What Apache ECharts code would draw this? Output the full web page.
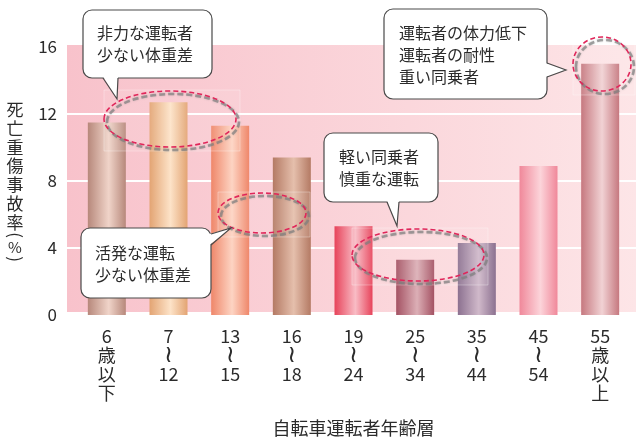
<!DOCTYPE html>
<html>
<head>
<meta charset="utf-8">
<script src="https://cdn.jsdelivr.net/npm/echarts@6/dist/echarts.min.js"></script>
<style>
  html, body { margin: 0; padding: 0; background: #fff; }
  #chart { width: 636px; height: 440px; }
</style>
</head>
<body>
<div id="chart"></div>
<script>
// Age groups of cyclists and their fatal/serious injury rate (%)
const ageGroups = ['6\n歳\n以\n下', '7\n{w|≀}\n12', '13\n{w|≀}\n15', '16\n{w|≀}\n18', '19\n{w|≀}\n24', '25\n{w|≀}\n34', '35\n{w|≀}\n44', '45\n{w|≀}\n54', '55\n歳\n以\n上'];
const injuryRates = [11.5, 12.7, 11.3, 9.4, 5.3, 3.3, 4.3, 8.9, 15.0];
const yTicks = { min: 0, max: 16, step: 4 };

// Cylinder-like shading per bar: edge colour and highlight colour
const barEdgeColors = ['#b7887b', '#e3a473', '#ef876a', '#b47a64', '#e7435a', '#a45263', '#8c7190', '#f0889a', '#c6787f'];
const barLightColors = ['#f0d4c9', '#fde3c8', '#fdd4c3', '#e5bfac', '#f9bcc5', '#dcafb6', '#d0b9ca', '#fcd4da', '#f1d2d4'];

const FONT = '"Noto Sans CJK JP", "Noto Sans", sans-serif';
const TEXT = '#2b2b2b';

function shadedBar(i) {
  return new echarts.graphic.LinearGradient(0, 0, 1, 0, [
    { offset: 0, color: barEdgeColors[i] },
    { offset: 0.55, color: barLightColors[i] },
    { offset: 1, color: barEdgeColors[i] }
  ]);
}

// Speech-bubble callout: rounded box plus a pointer
function callout(box, base1, tip, base2, inward, lines, textPos) {
  return [
    { type: 'rect', z: 100, shape: { x: box[0], y: box[1], width: box[2], height: box[3], r: 9 },
      style: { fill: '#fff', stroke: '#4a4a4a', lineWidth: 1.2 } },
    { type: 'polygon', z: 101,
      shape: { points: [[base1[0] + inward[0], base1[1] + inward[1]], tip, [base2[0] + inward[0], base2[1] + inward[1]]] },
      style: { fill: '#fff' } },
    { type: 'polyline', z: 102, shape: { points: [base1, tip, base2] },
      style: { fill: null, stroke: '#4a4a4a', lineWidth: 1.2 } },
    { type: 'text', z: 103,
      style: { text: lines, x: textPos[0], y: textPos[1], font: '16px ' + FONT, fill: TEXT,
               lineHeight: 22, verticalAlign: 'middle', align: 'left' } }
  ];
}

// Dashed highlight ring with a soft grey shadow ring
function ring(cx, cy, rx, ry) {
  return [
    { type: 'rect', z: 90, shape: { x: cx - rx, y: cy - ry - 1, width: 2 * rx + 4, height: 2 * ry + 5 },
      style: { fill: 'rgba(255,255,255,0.08)', stroke: 'rgba(255,255,255,0.3)', lineWidth: 1 } },
    { type: 'ellipse', z: 91, shape: { cx: cx + 3, cy: cy + 3, rx: rx, ry: ry },
      style: { fill: null, stroke: 'rgba(125,125,125,0.65)', lineWidth: 2.6, lineDash: [6, 3],
               shadowBlur: 2, shadowColor: 'rgba(125,125,125,0.6)' } },
    { type: 'ellipse', z: 92, shape: { cx: cx, cy: cy, rx: rx, ry: ry },
      style: { fill: null, stroke: '#e0265a', lineWidth: 1.6, lineDash: [5, 3] } }
  ];
}

// Arc of a vertical parenthesis: an ordinary bracket turned a quarter turn
function vParen(ch, y) {
  return { type: 'text', z: 50, x: 15, y: y, rotation: -Math.PI / 2,
    style: { text: ch, x: 0, y: 0, font: '17px ' + FONT, fill: TEXT, align: 'center', verticalAlign: 'middle' } };
}

const chart = echarts.init(document.getElementById('chart'), null, { renderer: 'canvas' });

const graphics = [
  // plot background
  { type: 'rect', z: -10, silent: true, shape: { x: 67, y: 45, width: 569, height: 267 },
    style: { fill: new echarts.graphic.LinearGradient(0, 0, 1, 0, [
      { offset: 0, color: '#f8c2cb' }, { offset: 1, color: '#fde5e7' }]) } },
  // vertical y-axis title
  { type: 'text', z: 50, style: { text: '死\n亡\n重\n傷\n事\n故\n率', x: 15, y: 166, font: '17px ' + FONT,
      fill: TEXT, lineHeight: 18.8, align: 'center', verticalAlign: 'middle' } },
  vParen('(', 235),
  { type: 'text', z: 50, style: { text: '%', x: 15, y: 247, font: '15px ' + FONT, fill: TEXT, align: 'center', verticalAlign: 'middle' } },
  vParen(')', 259)
]
  .concat(ring(170, 119, 66, 28))
  .concat(ring(262, 213, 44, 20))
  .concat(ring(418, 255, 66, 26))
  .concat(ring(602, 64, 29, 27))
  .concat(callout([83, 10, 129, 68], [103, 78], [117, 99], [118, 78], [0, -1.5], '非力な運転者\n少ない体重差', [97, 44]))
  .concat(callout([384, 9, 163, 90], [547, 63], [566, 70], [547, 77], [-1.5, 0], '運転者の体力低下\n運転者の耐性\n重い同乗者', [399, 55]))
  .concat(callout([324, 133, 114, 69], [387, 202], [397, 226], [399, 202], [0, -1.5], '軽い同乗者\n慎重な運転', [339, 167.5]))
  .concat(callout([81, 228, 130, 70], [211, 234], [231, 228], [211, 245], [-1.5, 0], '活発な運転\n少ない体重差', [95, 264]));

chart.setOption({
  animation: false,
  textStyle: { fontFamily: FONT },
  grid: [
    { left: 76, right: 5, top: 47, bottom: 125, outerBoundsMode: 'none', containLabel: false },
    { left: 67, right: 0, top: 47, bottom: 125, outerBoundsMode: 'none', containLabel: false }
  ],
  xAxis: [
    { type: 'category', gridIndex: 0, data: ageGroups,
      axisLine: { show: false }, axisTick: { show: false },
      axisLabel: { color: TEXT, fontSize: 18, lineHeight: 19, margin: 12, fontFamily: FONT, interval: 0,
        rich: { w: { fontFamily: '"DejaVu Sans"', fontSize: 24, lineHeight: 19, color: TEXT } } },
      name: '自転車運転者年齢層', nameLocation: 'middle', nameGap: 104,
      nameTextStyle: { color: TEXT, fontSize: 18, fontFamily: FONT } },
    { type: 'value', gridIndex: 1, min: 0, max: 1, show: false }
  ],
  yAxis: [
    { type: 'value', gridIndex: 0, min: yTicks.min, max: yTicks.max, interval: yTicks.step,
      axisLine: { show: false }, axisTick: { show: false }, splitLine: { show: false },
      axisLabel: { color: TEXT, fontSize: 17, margin: 19, fontFamily: FONT } },
    { type: 'value', gridIndex: 1, min: yTicks.min, max: yTicks.max, interval: yTicks.step,
      axisLine: { show: false }, axisTick: { show: false }, axisLabel: { show: false },
      splitLine: { show: true, showMinLine: false, showMaxLine: false, lineStyle: { color: '#ffffff', width: 2 } } }
  ],
  series: [
    { type: 'bar', xAxisIndex: 0, yAxisIndex: 0, barWidth: 38,
      data: injuryRates.map((v, i) => ({ value: v, itemStyle: { color: shadedBar(i) } })) }
  ],
  graphic: graphics
});
</script>
</body>
</html>
